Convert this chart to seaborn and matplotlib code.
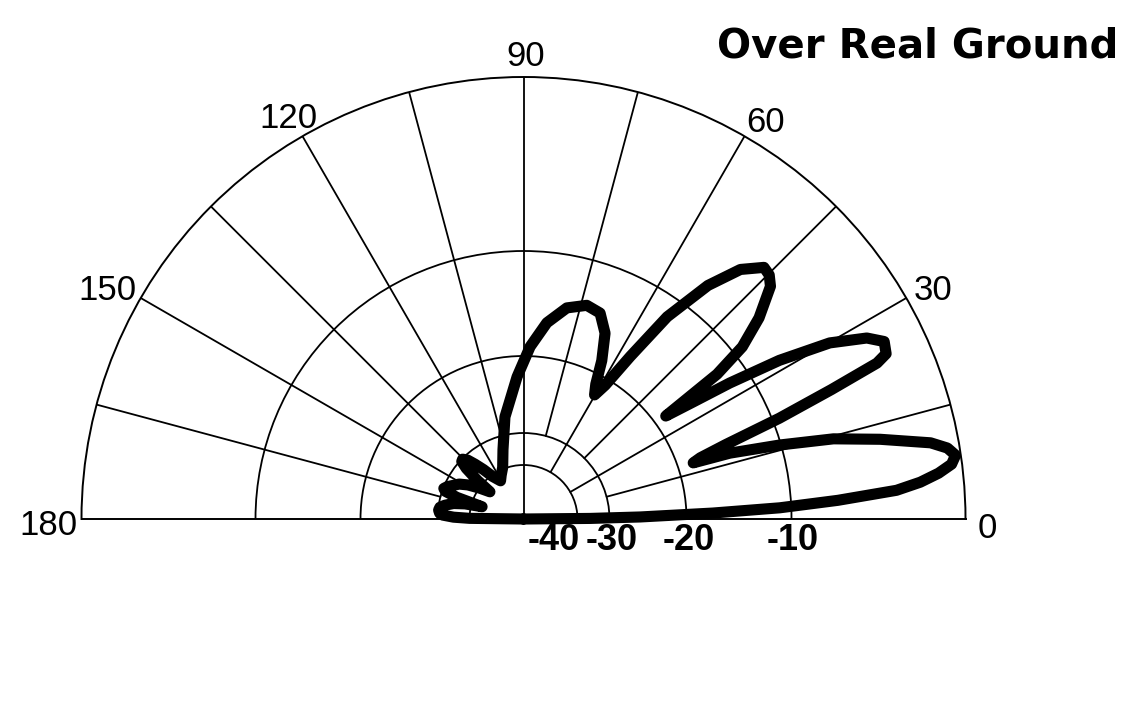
import numpy as np
import seaborn as sns
import matplotlib
matplotlib.use("Agg")
import matplotlib.pyplot as plt

# elevation pattern (angle in degrees, gain in dB)
ANGLES = [0, 0.5, 1.0, 1.8, 2.5, 3.4, 4.4, 5.3, 6.3, 7.3, 8.4, 9.5, 10.6, 12.6, 14.5, 16.1, 17.7, 18.3,
          19.1, 20.2, 21.5, 22.8, 23.8, 24.5, 26.2, 27.8, 29.9, 31.8, 33.4, 34.6, 35.9,
          36.8, 38.2, 40.5, 43.3, 44.8, 46.3, 49.0, 51.7, 54.6, 56.7, 58.6, 60.2,
          61.8, 63.7, 66.3, 69.6, 73.5, 78.4, 83.2, 87.8, 92.6, 100.3, 106.5, 112.0, 117.0, 121.0,
          126.0, 129.0, 131.5, 133.5, 135.5, 137.0, 138.5, 140.0, 141.0,
          145.0, 148.5, 151.5, 154.5, 157.0, 159.0, 160.5, 162.0, 163.5,
          165.5, 167.5, 170.0, 172.0, 174.0, 176.0, 177.2, 178.5, 179.3, 180.0]
GAIN_DB = [-60, -36, -26, -17.5, -11.1, -7.3, -3.9, -2.5, -1.4, -0.6, -0.3, -0.7, -1.6, -4.4, -7.0, -10.1, -14.9, -18.5,
           -17.7, -15.0, -9.6, -6.2, -3.2, -2.5, -2.3, -3.1, -5.1, -8.1, -12.0, -15.9, -18.8,
           -12.5, -9.4, -7.6, -5.9, -5.5, -5.4, -6.4, -8.3, -11.9, -17.0, -20.8, -22.6,
           -21.3, -18.7, -16.2, -14.6, -14.3, -15.0, -16.7, -19.1, -22.7, -27.7, -34.3, -39.5, -41.8, -43.5,
           -40.5, -37.0, -34.0, -31.5, -30.2, -30.5, -33.0, -38.0, -44.0,
           -40.0, -36.5, -34.0, -32.5, -31.0, -30.2, -31.0, -35.0, -44.0,
           -38.0, -34.5, -32.0, -30.5, -30.2, -30.6, -31.5, -35.0, -40.0, -60.0]

# radial scale of the chart (dB -> relative radius), taken from the ring spacing
SCALE_DB = [-60, -40, -30, -20, -10, 0]
SCALE_R = [0, 54, 86, 163, 268, 442]

RINGS = [-40, -30, -20, -10]
RING_LABELS = ["-40", "-30", "-20", "-10"]
SPOKE_ANGLES = [15, 30, 45, 60, 75, 90, 105, 120, 135, 150, 165]
SPOKE_INNER = [-30, -40, -30, -40, -30, -60, -30, -40, -30, -40, -30]
ANGLE_TICKS = [0, 30, 60, 90, 120, 150, 180]
TITLE = "Over Real Ground"


def fwd(db):
    return np.interp(db, SCALE_DB, SCALE_R)


def inv(r):
    return np.interp(r, SCALE_R, SCALE_DB)


sns.set_theme(style="white")
plt.rcParams["font.family"] = ["Liberation Sans", "DejaVu Sans"]

fig = plt.figure(figsize=(11.35, 7.16), dpi=100)
W, H = 1135, 716
cx, cy, R = 523.5, 519, 442
# polar wedge is padded to a square box, semicircle centre sits at 1/4 height
ax = fig.add_axes([(cx - R) / W, ((H - cy) - 0.5 * R) / H, 2 * R / W, 2 * R / H],
                  projection="polar")
ax.set_thetamin(0)
ax.set_thetamax(180)
ax.set_rscale("function", functions=(fwd, inv))

theta = np.radians(ANGLES)
sns.lineplot(x=theta, y=GAIN_DB, ax=ax, sort=False, estimator=None,
             color="black", linewidth=8, zorder=5)
for ln in ax.lines:
    ln.set_clip_on(False)
    ln.set_solid_joinstyle("round")
    ln.set_solid_capstyle("round")

# spokes
for a, r0 in zip(SPOKE_ANGLES, SPOKE_INNER):
    ax.plot([np.radians(a)] * 2, [r0, 0], color="black", lw=1.3, zorder=2)

ax.set_rlim(-60, 0)
ax.set_rgrids(RINGS, labels=[""] * len(RINGS))
ax.yaxis.grid(True, color="black", lw=1.3, linestyle="-")
ax.set_xticks([])
ax.xaxis.grid(False)
ax.set_xlabel("")
ax.set_ylabel("")
for sp in ax.spines.values():
    sp.set_color("black")
    sp.set_linewidth(1.4)

# angle labels around the rim
offsets = [(22, -9), (27, 7), (21, 14), (2, 21), (-14, 18), (-33, 7), (-33, -7)]
for a, off in zip(ANGLE_TICKS, offsets):
    ax.annotate(str(a), xy=(np.radians(a), 0), xytext=off, textcoords="offset pixels",
                ha="center", va="center", fontsize=25, color="black",
                annotation_clip=False)

# dB ring labels along the baseline
ring_dx = [-24, 2, 2, 1]
for val, lab, dx in zip(RINGS, RING_LABELS, ring_dx):
    ax.annotate(lab, xy=(0, val), xytext=(dx, -21), textcoords="offset pixels",
                ha="center", va="center", fontsize=26, fontweight="bold",
                family=["Liberation Sans Narrow", "Liberation Sans"],
                color="black", annotation_clip=False)

fig.text(917.5 / W, (H - 57) / H, TITLE, ha="center", va="baseline",
         fontsize=29, fontweight="bold", family=["DejaVu Sans"], color="black")

fig.savefig("out.png", dpi=100, facecolor="white")
